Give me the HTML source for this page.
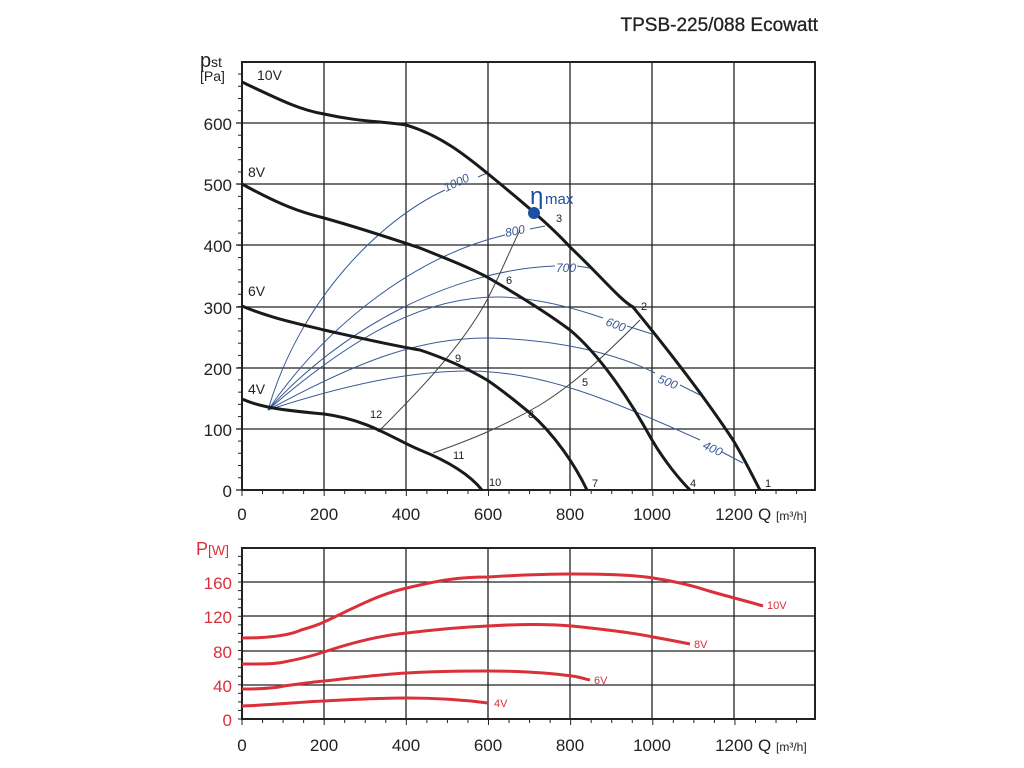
<!DOCTYPE html>
<html><head><meta charset="utf-8"><style>
html,body{margin:0;padding:0;background:#fff;}
svg{display:block;font-family:"Liberation Sans",sans-serif;}
</style></head><body>
<svg width="1024" height="768" viewBox="0 0 1024 768">
<text x="818" y="31" font-size="19" text-anchor="end" fill="#222" stroke="#222" stroke-width="0.3">TPSB-225/088 Ecowatt</text>
<g stroke="#222" stroke-width="1.3" fill="none">
<line x1="324" y1="62" x2="324" y2="490"/><line x1="406" y1="62" x2="406" y2="490"/><line x1="488" y1="62" x2="488" y2="490"/><line x1="570" y1="62" x2="570" y2="490"/><line x1="652" y1="62" x2="652" y2="490"/><line x1="734" y1="62" x2="734" y2="490"/>
<line x1="242" y1="429" x2="815" y2="429"/><line x1="242" y1="368" x2="815" y2="368"/><line x1="242" y1="307" x2="815" y2="307"/><line x1="242" y1="245" x2="815" y2="245"/><line x1="242" y1="184" x2="815" y2="184"/><line x1="242" y1="123" x2="815" y2="123"/>
</g>
<rect x="242" y="62" width="573" height="428" fill="none" stroke="#222" stroke-width="2"/>
<g stroke="#222" stroke-width="1.3">
<line x1="236" y1="490" x2="242" y2="490"/><line x1="236" y1="429" x2="242" y2="429"/><line x1="236" y1="368" x2="242" y2="368"/><line x1="236" y1="307" x2="242" y2="307"/><line x1="236" y1="245" x2="242" y2="245"/><line x1="236" y1="184" x2="242" y2="184"/><line x1="236" y1="123" x2="242" y2="123"/>
</g>
<g id="yt" stroke="#222" stroke-width="1"></g>
<g font-size="17" fill="#222" text-anchor="end">
<text x="232" y="497">0</text><text x="232" y="436">100</text><text x="232" y="375">200</text><text x="232" y="314">300</text><text x="232" y="252">400</text><text x="232" y="191">500</text><text x="232" y="130">600</text>
</g>
<g font-size="17" fill="#222" text-anchor="middle">
<text x="242" y="520">0</text><text x="324" y="520">200</text><text x="406" y="520">400</text><text x="488" y="520">600</text><text x="570" y="520">800</text><text x="652" y="520">1000</text><text x="734" y="520">1200</text>
</g>
<text x="758" y="520" font-size="17" fill="#222">Q</text><text x="776" y="520" font-size="12" fill="#222">[m³/h]</text>
<text x="200" y="67" font-size="20" fill="#222">p</text><text x="211" y="67" font-size="14" fill="#222">st</text>
<text x="200" y="81" font-size="14" fill="#222">[Pa]</text>
<g font-size="14" fill="#222"><text x="257" y="80">10V</text><text x="248" y="177">8V</text><text x="248" y="296">6V</text><text x="248" y="394">4V</text></g>
<g stroke="#3a5a95" stroke-width="1" fill="none">
<path d="M268,410 C300,300 380,220 445,190"/><path d="M478,177 L487,173"/>
<path d="M268,410 C330,320 420,255 505,235"/><path d="M530,229 L545,226"/>
<path d="M268,410 C340,330 450,270 555,266"/><path d="M577,266 L590,268"/>
<path d="M268,410 C360,330 430,296 500,297 C540,298 580,310 603,318"/><path d="M627,326 L652,334"/>
<path d="M268,410 C360,360 420,338 487,338 C560,339 620,355 655,373"/><path d="M680,385 L700,395"/>
<path d="M268,410 C360,380 420,371 470,371 C540,372 600,395 700,440"/><path d="M722,452 L743,463"/>
</g>
<g font-size="12" fill="#3a5a95" font-style="italic">
<text x="446" y="192" transform="rotate(-25 446 192)">1000</text>
<text x="506" y="237" transform="rotate(-12 506 237)">800</text>
<text x="556" y="272">700</text>
<text x="605" y="325" transform="rotate(20 605 325)">600</text>
<text x="657" y="382" transform="rotate(22 657 382)">500</text>
<text x="702" y="448" transform="rotate(25 702 448)">400</text>
</g>
<g stroke="#444" stroke-width="1" fill="none">
<path d="M378,432 C410,400 460,350 487,300 C500,275 510,250 520,230"/>
<path d="M433,453 C470,440 500,428 540,405 C580,380 610,350 640,320"/>
</g>
<g stroke="#1a1a1a" stroke-width="3" fill="none">
<path d="M242,82 C280,100 300,110 324,114 C360,122 380,121 406,125 C440,135 465,155 487,173 C520,200 550,225 570,247 C600,275 620,300 633,307 C660,340 700,390 733,440 C745,460 752,475 760,490"/>
<path d="M242,184 C280,205 300,212 324,218 C360,228 390,238 420,248 C450,260 470,268 487,277 C520,296 550,315 570,330 C600,355 630,400 652,440 C665,462 680,480 690,490"/>
<path d="M242,306 C270,318 300,324 324,330 C360,338 390,345 420,350 C450,360 470,370 487,380 C505,392 520,405 530,413 C555,435 575,465 587,490"/>
<path d="M242,399 C260,407 280,410 324,414 C370,420 395,440 420,450 C450,462 470,475 482,490"/>
</g>
<circle cx="534" cy="213" r="6" fill="#1a4fa3"/>
<text x="530" y="204" font-size="24" fill="#1a4fa3">η</text><text x="545" y="204" font-size="15" fill="#1a4fa3">max</text>
<g font-size="11" fill="#222">
<text x="556" y="222">3</text><text x="641" y="310">2</text><text x="506" y="284">6</text><text x="582" y="386">5</text><text x="455" y="362">9</text><text x="528" y="418">8</text><text x="370" y="418">12</text><text x="453" y="459">11</text><text x="489" y="486">10</text><text x="592" y="487">7</text><text x="690" y="487">4</text><text x="765" y="487">1</text>
</g>
<g stroke="#222" stroke-width="1.3" fill="none">
<line x1="324" y1="548" x2="324" y2="719"/><line x1="406" y1="548" x2="406" y2="719"/><line x1="488" y1="548" x2="488" y2="719"/><line x1="570" y1="548" x2="570" y2="719"/><line x1="652" y1="548" x2="652" y2="719"/><line x1="734" y1="548" x2="734" y2="719"/>
<line x1="242" y1="685" x2="815" y2="685"/><line x1="242" y1="651" x2="815" y2="651"/><line x1="242" y1="616" x2="815" y2="616"/><line x1="242" y1="582" x2="815" y2="582"/>
</g>
<rect x="242" y="548" width="573" height="171" fill="none" stroke="#222" stroke-width="2"/>
<g id="yt2" stroke="#222" stroke-width="1"></g>
<g font-size="17" fill="#d9303a" text-anchor="end">
<text x="232" y="726">0</text><text x="232" y="692">40</text><text x="232" y="658">80</text><text x="232" y="623">120</text><text x="232" y="589">160</text>
</g>
<text x="196" y="555" font-size="18" fill="#d9303a">P</text><text x="208" y="555" font-size="14" fill="#d9303a">[W]</text>
<g font-size="17" fill="#222" text-anchor="middle">
<text x="242" y="751">0</text><text x="324" y="751">200</text><text x="406" y="751">400</text><text x="488" y="751">600</text><text x="570" y="751">800</text><text x="652" y="751">1000</text><text x="734" y="751">1200</text>
</g>
<text x="758" y="751" font-size="17" fill="#222">Q</text><text x="776" y="751" font-size="12" fill="#222">[m³/h]</text>
<g stroke="#d9303a" stroke-width="3" fill="none">
<path d="M242,638 C270,638 290,635 301,630 C315,626 320,624 324,622 C360,605 380,594 407,588 C440,580 460,577 488,577 C520,575 550,574 572,574 C610,574 635,575 653,578 C680,582 700,588 709,591 C730,597 750,602 763,606"/>
<path d="M242,664 C265,664 275,664 284,662 C300,659 312,656 324,652 C360,640 385,635 407,633 C440,629 465,627 488,626 C520,624 550,624 572,626 C610,630 635,633 653,637 C670,640 680,642 690,644"/>
<path d="M242,689 C265,689 275,688 284,686 C300,684 312,682 324,681 C360,677 385,674 407,673 C440,671 465,671 488,671 C520,671 550,673 572,676 C580,677 585,679 590,680"/>
<path d="M242,706 C270,705 300,702 324,701 C360,699 385,698 407,698 C440,698 465,700 488,703"/>
</g>
<g font-size="11" fill="#d9303a"><text x="767" y="609">10V</text><text x="694" y="648">8V</text><text x="594" y="684">6V</text><text x="494" y="707">4V</text></g>
</svg>
<script>
(function(){
var ns="http://www.w3.org/2000/svg";
function L(g,x1,y1,x2,y2){var l=document.createElementNS(ns,"line");l.setAttribute("x1",x1);l.setAttribute("y1",y1);l.setAttribute("x2",x2);l.setAttribute("y2",y2);g.appendChild(l);}
var g=document.getElementById("yt");
for(var p=0;p<=700;p+=20){var y=490-p*0.6117;if(y<62)break;L(g,238,y,242,y);}
for(var q=0;q<=1400;q+=50){var x=242+q*0.4108;if(x>815)break;L(g,x,490,x,q%200==0?496:494);}
var g2=document.getElementById("yt2");
for(var P=0;P<=200;P+=10){var y2=719-P*0.856;if(y2<548)break;L(g2,238,y2,242,y2);}
for(var q=0;q<=1400;q+=50){var x=242+q*0.4108;if(x>815)break;L(g2,x,719,x,q%200==0?725:723);}
})();
</script>
</body></html>
